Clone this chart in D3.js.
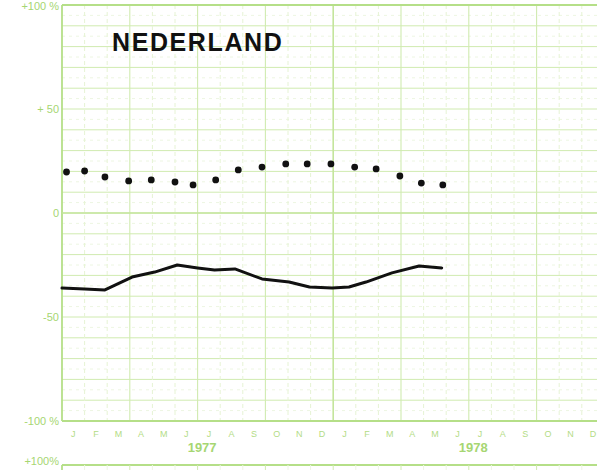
<!DOCTYPE html>
<html><head><meta charset="utf-8">
<script src="https://cdn.jsdelivr.net/npm/d3@7/dist/d3.min.js"></script>
<style>
html,body{margin:0;padding:0;background:#fff;}
svg{display:block;}
</style></head>
<body>
<svg id="c" width="597" height="470"></svg>
<script>
// ---- data ----
const title = "NEDERLAND";
const monthLabels = ["J","F","M","A","M","J","J","A","S","O","N","D","J","F","M","A","M","J","J","A","S","O","N","D"];
const yearLabels = ["1977","1978"];
const yTickValues = [100, 50, 0, -50, -100];
const yTickLabels = ["+100 %", "+ 50", "0", "-50", "-100 %"];
// dotted series (position in months from Jan 1977, value in %)
const dotMonths = [0.2, 1.0, 1.9, 2.95, 3.95, 5.0, 5.8, 6.8, 7.8, 8.85, 9.9, 10.85, 11.9, 12.95, 13.9, 14.95, 15.9, 16.85];
const dotValues = [19.7, 20.2, 17.3, 15.4, 15.9, 14.9, 13.5, 15.9, 20.7, 22.1, 23.6, 23.6, 23.6, 22.1, 21.2, 17.8, 14.4, 13.5];
// solid line series
const lineMonths = [0.0, 1.0, 1.9, 3.1, 4.1, 5.1, 6.0, 6.75, 7.65, 8.85, 10.05, 10.95, 11.95, 12.7, 13.45, 14.6, 15.8, 16.8];
const lineValues = [-36.1, -36.5, -37.0, -30.8, -28.4, -25.0, -26.4, -27.4, -26.9, -31.7, -33.2, -35.6, -36.1, -35.6, -33.2, -28.8, -25.5, -26.4];

// ---- layout ----
const svg = d3.select("#c");
const green = "#a6d672";
const gridMajor = "#d0ebb0";
const gridMinor = "#edf6e2";
const x = d3.scaleLinear().domain([0, 24]).range([62, 62 + 24 * 22.6]);
const y = d3.scaleLinear().domain([-100, 100]).range([421, 5]);

const g = svg.append("g");

// minor horizontal grid (5%)
g.selectAll("line.hm").data(d3.range(-95, 100, 10)).join("line")
  .attr("x1", x(0)).attr("x2", 597).attr("y1", d => y(d)).attr("y2", d => y(d))
  .attr("stroke", gridMinor).attr("stroke-width", 1).attr("stroke-dasharray", "3,4");
// horizontal grid (10%)
g.selectAll("line.h").data(d3.range(-90, 100, 10)).join("line")
  .attr("x1", x(0)).attr("x2", 597).attr("y1", d => y(d)).attr("y2", d => y(d))
  .attr("stroke", gridMajor).attr("stroke-width", 1);
// monthly vertical grid
g.selectAll("line.vm").data(d3.range(1, 24).filter(m => m % 3 !== 0)).join("line")
  .attr("x1", d => x(d)).attr("x2", d => x(d)).attr("y1", y(100)).attr("y2", y(-100))
  .attr("stroke", "#e6f3d4").attr("stroke-width", 1).attr("stroke-dasharray", "4,3");
// quarterly vertical grid
g.selectAll("line.vq").data(d3.range(3, 24, 3)).join("line")
  .attr("x1", d => x(d)).attr("x2", d => x(d)).attr("y1", y(100)).attr("y2", y(-100))
  .attr("stroke", d => d === 12 ? "#c4e59c" : gridMajor).attr("stroke-width", d => d === 12 ? 1.6 : 1.1);
// frame lines
g.append("line").attr("x1", x(0)).attr("x2", 597).attr("y1", y(100)).attr("y2", y(100))
  .attr("stroke", "#b5df88").attr("stroke-width", 2);
g.append("line").attr("x1", x(0)).attr("x2", 597).attr("y1", y(-100)).attr("y2", y(-100))
  .attr("stroke", "#b5df88").attr("stroke-width", 1.8);
g.append("line").attr("x1", x(0)).attr("x2", x(0)).attr("y1", y(100)).attr("y2", y(-100))
  .attr("stroke", "#b5df88").attr("stroke-width", 1.8);
g.append("line").attr("x1", x(0)).attr("x2", 597).attr("y1", y(0)).attr("y2", y(0))
  .attr("stroke", "#c4e59c").attr("stroke-width", 1.4);

// y labels
g.selectAll("text.yl").data(yTickValues).join("text")
  .attr("x", 59).attr("y", d => d === 100 ? y(d) + 5 : y(d) + 4)
  .attr("text-anchor", "end")
  .attr("font-family", "Liberation Sans, Arial, sans-serif").attr("font-size", 11)
  .attr("fill", green)
  .text((d, i) => yTickLabels[i]);

// month labels
g.selectAll("text.ml").data(monthLabels).join("text")
  .attr("x", (d, i) => x(i + 0.5)).attr("y", 437)
  .attr("text-anchor", "middle")
  .attr("font-family", "Liberation Sans, Arial, sans-serif").attr("font-size", 9)
  .attr("fill", "#b3dc85")
  .text(d => d);

// year labels
g.selectAll("text.yr").data(yearLabels).join("text")
  .attr("x", (d, i) => x(6.2 + 12 * i)).attr("y", 452)
  .attr("text-anchor", "middle")
  .attr("font-family", "Liberation Sans, Arial, sans-serif").attr("font-size", 13).attr("font-weight", "bold")
  .attr("fill", green)
  .text(d => d);

// next panel top (+100% of following chart)
g.append("line").attr("x1", x(0)).attr("x2", 597).attr("y1", 465).attr("y2", 465)
  .attr("stroke", "#b5df88").attr("stroke-width", 2);
g.selectAll("line.nv").data(d3.range(1, 24)).join("line")
  .attr("x1", d => x(d)).attr("x2", d => x(d)).attr("y1", 465).attr("y2", 470)
  .attr("stroke", d => d % 3 === 0 ? gridMajor : gridMinor);
g.append("line").attr("x1", x(0)).attr("x2", x(0)).attr("y1", 465).attr("y2", 470)
  .attr("stroke", "#b5df88").attr("stroke-width", 1.8);
g.append("text").attr("x", 59).attr("y", 465)
  .attr("text-anchor", "end")
  .attr("font-family", "Liberation Sans, Arial, sans-serif").attr("font-size", 11)
  .attr("fill", green).text("+100%");

// title
g.append("text").attr("x", 112).attr("y", 51)
  .attr("font-family", "Liberation Sans, Arial, sans-serif").attr("font-size", 25).attr("font-weight", "bold")
  .attr("letter-spacing", 1.6)
  .attr("fill", "#111").text(title);

// line series
const lineData = lineMonths.map((m, i) => [m, lineValues[i]]);
g.append("path").datum(lineData)
  .attr("d", d3.line().x(d => x(d[0])).y(d => y(d[1])).curve(d3.curveLinear))
  .attr("fill", "none").attr("stroke", "#111").attr("stroke-width", 3)
  .attr("stroke-linejoin", "round").attr("stroke-linecap", "round");

// dots
const dotData = dotMonths.map((m, i) => [m, dotValues[i]]);
g.selectAll("circle.d").data(dotData).join("circle")
  .attr("cx", d => x(d[0])).attr("cy", d => y(d[1])).attr("r", 3.4)
  .attr("fill", "#111");
</script>
</body></html>
